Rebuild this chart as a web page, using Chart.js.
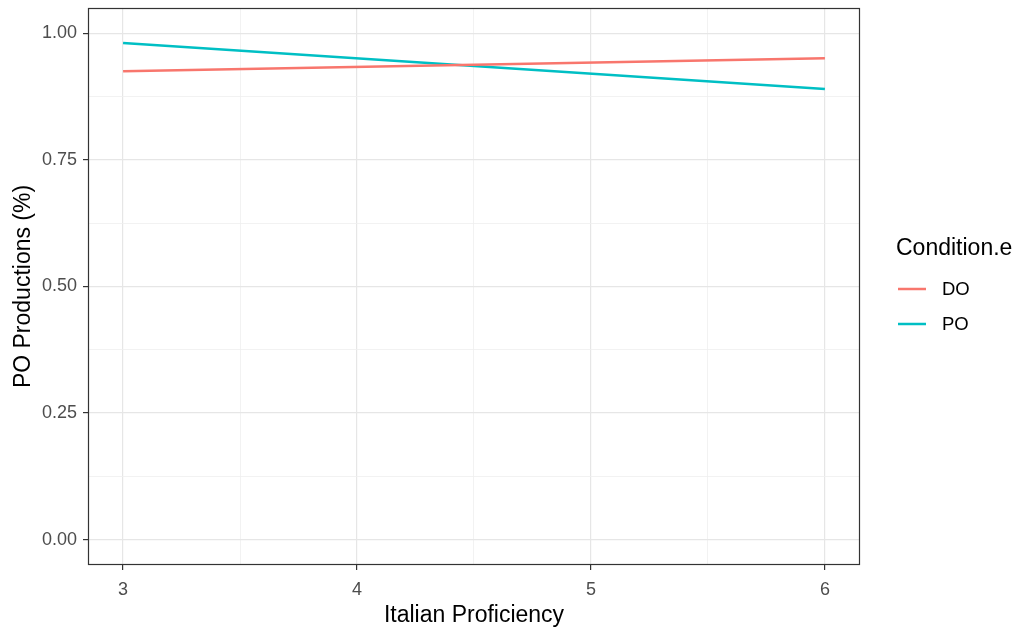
<!DOCTYPE html>
<html>
<head>
<meta charset="utf-8">
<script src="https://cdn.jsdelivr.net/npm/chart.js@4.4.1/dist/chart.umd.min.js"></script>
<style>
  html, body { margin: 0; padding: 0; background: #fff; }
  #wrap { width: 1021px; height: 631px; }
</style>
</head>
<body>
<div id="wrap"><canvas id="chart" width="1021" height="631"></canvas></div>
<script>
const ctx = document.getElementById("chart");

// fitted lines, one per condition (x = proficiency)
const proficiency = [3, 6];
const doValues = [0.925, 0.951];
const poValues = [0.981, 0.890];
const seriesNames = ['DO', 'PO'];
const seriesColors = ['#F8766D', '#00BFC4'];

const xTicks = [3, 3.5, 4, 4.5, 5, 5.5, 6];
const yTicks = [0, 0.125, 0.25, 0.375, 0.5, 0.625, 0.75, 0.875, 1];

const fontFam = '"Liberation Sans", Arial, sans-serif';

function isMajorX(v) { return Number.isInteger(v); }
function isMajorY(v) { return Math.abs(v * 4 - Math.round(v * 4)) < 1e-9; }

// panel border + legend drawn after everything else
const panelPlugin = {
    id: 'panel',
    afterDraw(chart) {
        const c = chart.ctx;
        const a = chart.chartArea;
        c.save();
        c.strokeStyle = '#333333';
        c.lineWidth = 1.2;
        c.strokeRect(a.left + 0.5, a.top + 0.5, a.right - a.left - 1, a.bottom - a.top - 1);

        c.fillStyle = '#000';
        c.font = '23px ' + fontFam;
        c.textBaseline = 'middle';
        c.textAlign = 'left';
        c.fillText('Condition.e', 896, 249);
        c.font = '18.5px ' + fontFam;
        seriesNames.forEach((name, i) => {
            const y = 289 + i * 35;
            c.strokeStyle = seriesColors[i];
            c.lineWidth = 2.5;
            c.beginPath();
            c.moveTo(898, y);
            c.lineTo(926, y);
            c.stroke();
            c.fillStyle = '#000';
            c.fillText(name, 942, y + 1);
        });
        c.restore();
    }
};

new Chart(ctx, {
    type: 'line',
    data: {
        datasets: [
            {
                label: seriesNames[0],
                data: proficiency.map((x, i) => ({x: x, y: doValues[i]})),
                borderColor: seriesColors[0],
                backgroundColor: 'transparent',
                borderWidth: 2.5,
                pointRadius: 0,
                tension: 0,
            },
            {
                label: seriesNames[1],
                data: proficiency.map((x, i) => ({x: x, y: poValues[i]})),
                borderColor: seriesColors[1],
                backgroundColor: 'transparent',
                borderWidth: 2.5,
                pointRadius: 0,
                tension: 0,
            }
        ]
    },
    options: {
        responsive: false,
        animation: false,
        layout: { padding: { top: 8, right: 161, left: 0, bottom: 0 } },
        plugins: {
            legend: { display: false },
            tooltip: { enabled: false },
        },
        scales: {
            x: {
                type: 'linear',
                min: 2.85,
                max: 6.15,
                afterBuildTicks: (s) => { s.ticks = xTicks.map(v => ({value: v})); },
                afterFit: (s) => { s.height = 66; s.paddingLeft = 0; s.paddingRight = 0; },
                ticks: {
                    autoSkip: false,
                    maxRotation: 0,
                    color: '#4D4D4D',
                    font: { family: fontFam, size: 18 },
                    padding: 9,
                    callback: (v) => isMajorX(v) ? String(v) : '',
                },
                grid: {
                    color: (c) => isMajorX(c.tick.value) ? '#E6E6E6' : '#EFEFEF',
                    lineWidth: (c) => isMajorX(c.tick.value) ? 1.2 : 0.8,
                    tickColor: (c) => isMajorX(c.tick.value) ? '#333333' : 'transparent',
                    tickLength: 5,
                },
                border: { display: false },
                title: {
                    display: true,
                    text: 'Italian Proficiency',
                    color: '#000',
                    font: { family: fontFam, size: 23 },
                    padding: { top: 0, bottom: 2 },
                },
            },
            y: {
                type: 'linear',
                min: -0.05,
                max: 1.05,
                afterBuildTicks: (s) => { s.ticks = yTicks.map(v => ({value: v})); },
                afterFit: (s) => { s.width = 88; s.paddingTop = 0; s.paddingBottom = 0; },
                ticks: {
                    autoSkip: false,
                    color: '#4D4D4D',
                    font: { family: fontFam, size: 18 },
                    padding: 6,
                    callback: (v) => isMajorY(v) ? v.toFixed(2) : '',
                },
                grid: {
                    color: (c) => isMajorY(c.tick.value) ? '#E6E6E6' : '#EFEFEF',
                    lineWidth: (c) => isMajorY(c.tick.value) ? 1.2 : 0.8,
                    tickColor: (c) => isMajorY(c.tick.value) ? '#333333' : 'transparent',
                    tickLength: 5,
                },
                border: { display: false },
                title: {
                    display: true,
                    text: 'PO Productions (%)',
                    color: '#000',
                    font: { family: fontFam, size: 23 },
                    padding: { top: 10, bottom: 2 },
                },
            }
        }
    },
    plugins: [panelPlugin]
});
</script>
</body>
</html>
